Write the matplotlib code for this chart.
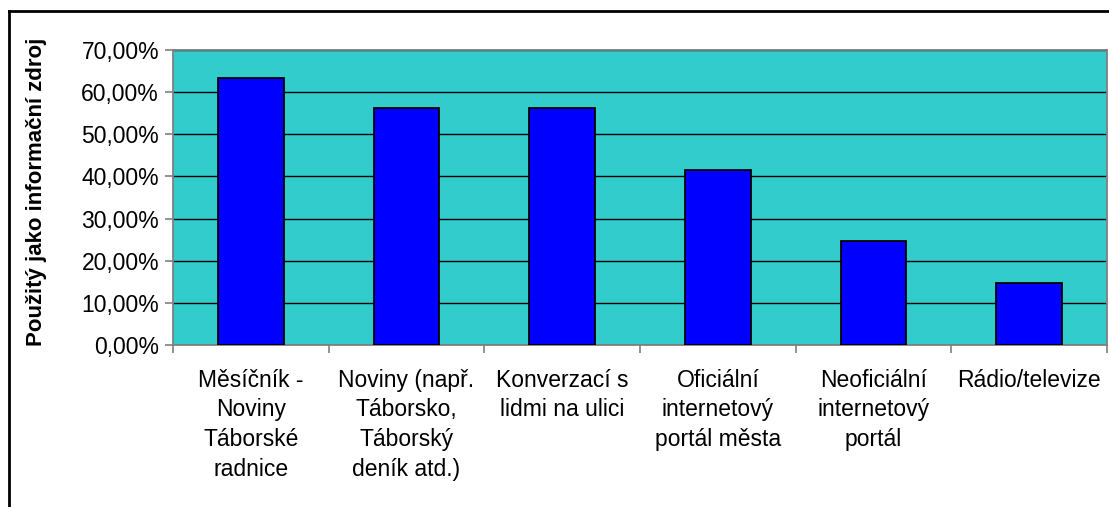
import matplotlib.pyplot as plt
from matplotlib.lines import Line2D
from matplotlib.ticker import FuncFormatter, MultipleLocator
import numpy as np

categories = [
    "Měsíčník -\nNoviny\nTáborské\nradnice",
    "Noviny (např.\nTáborsko,\nTáborský\ndeník atd.)",
    "Konverzací s\nlidmi na ulici",
    "Oficiální\ninternetový\nportál města",
    "Neoficiální\ninternetový\nportál",
    "Rádio/televize",
]
values = [63.3, 56.3, 56.3, 41.6, 24.7, 14.7]
y_label = "Použitý jako informační zdroj"

plt.rcParams["font.family"] = ["Liberation Sans", "DejaVu Sans"]

fig = plt.figure(figsize=(11.09, 5.07), dpi=100)
ax = fig.add_axes([173 / 1109, 1 - 345 / 507, (1107 - 173) / 1109, (345 - 50) / 507])

x = np.arange(len(categories))
ax.set_facecolor("#33CCCC")
ax.bar(x, values, width=0.42, color="#0000FF", edgecolor="black", linewidth=1.3, zorder=3)

ax.set_xlim(-0.5, len(categories) - 0.5)
ax.set_ylim(0, 70)
ax.yaxis.set_major_locator(MultipleLocator(10))
ax.yaxis.set_major_formatter(FuncFormatter(lambda v, p: f"{v:.2f}%".replace(".", ",")))
ax.grid(axis="y", color="black", linewidth=1.0, zorder=1)

ax.set_xticks(x)
ax.set_xticklabels(categories, fontsize=16.5, linespacing=1.38, va="top")
ax.set_xticks(np.arange(len(categories) + 1) - 0.5, minor=True)
ax.tick_params(axis="x", which="major", length=0, pad=17)
ax.tick_params(axis="x", which="minor", length=6, color="#808080", width=1.2)
ax.tick_params(axis="y", length=6, color="#808080", width=1.2, labelsize=16.5, pad=4)

ax.set_ylabel(y_label, fontsize=16, fontweight="bold")
ax.yaxis.set_label_coords(-0.135, 0.52)

for side in ["top", "right", "left", "bottom"]:
    ax.spines[side].set_color("#808080")
    ax.spines[side].set_linewidth(1.3)

# outer chart frame
fig.add_artist(Line2D([9 / 1109, 9 / 1109], [0, 1 - 11 / 507], color="black", linewidth=2))
fig.add_artist(Line2D([9 / 1109, 1], [1 - 11 / 507, 1 - 11 / 507], color="black", linewidth=2))

fig.savefig("out.png", dpi=100)
